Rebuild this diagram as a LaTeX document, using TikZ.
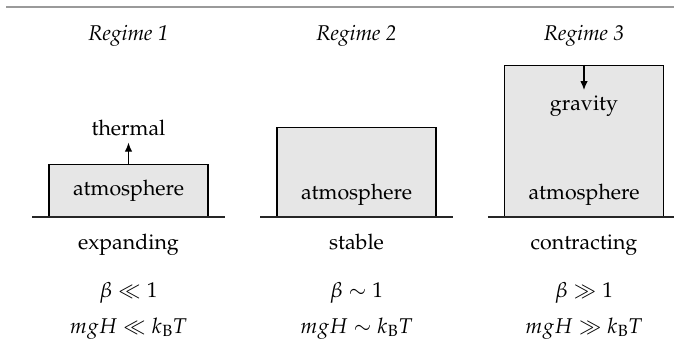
\documentclass[tikz,border=0pt]{standalone}
\usepackage[T1]{fontenc}
\usepackage{mathpazo}
\usetikzlibrary{arrows.meta}
\definecolor{boxgray}{HTML}{E6E6E6}
\definecolor{rulegray}{HTML}{9A9A9A}
\begin{document}
\begin{tikzpicture}[x=1pt,y=-1pt,
  every node/.style={font=\fontsize{21.35}{25}\selectfont, inner sep=0pt},
  lbl/.style={anchor=base},
  box/.style={draw=black, fill=boxgray, line width=1.1pt, minimum width=159pt, anchor=south},
  ground/.style={draw=black!85, line width=1.3pt},
  flow/.style={draw=black, line width=1.1pt, -{Latex[length=9pt,width=7.5pt]}}
]
\useasboundingbox (0,0) rectangle (674,355);
\draw[rulegray, line width=2.2pt] (6,7) -- (674,7);

% titles
\node[lbl] (r1) at (128.5,41) {\itshape Regime 1};
\node[lbl] (r2) at (356.5,41) {\itshape Regime 2};
\node[lbl] (r3) at (584,41) {\itshape Regime 3};

% boxes
\node[box, minimum height=52pt] (b1) at (128.5,217) {};
\node[box, minimum height=89pt] (b2) at (356.5,217) {};
\node[box, minimum height=151pt] (b3) at (584,217) {};

% ground lines
\draw[ground] ([xshift=-16pt]b1.south west) -- ([xshift=16pt]b1.south east);
\draw[ground] ([xshift=-16pt]b2.south west) -- ([xshift=16pt]b2.south east);
\draw[ground] ([xshift=-16pt]b3.south west) -- ([xshift=16pt]b3.south east);

% box texts
\node (a1) at (b1.center) {atmosphere};
\node[lbl] (a2) at (356.5,200) {atmosphere};
\node[lbl] (a3) at (584,200) {atmosphere};
\node[lbl] (thermal) at (128.5,136) {thermal};
\node[lbl] (gravity) at (584,111) {gravity};

\draw[flow, shorten >=6pt] (b1.north) -- (thermal.south);
\draw[flow, shorten >=6pt] (b3.north) -- (gravity.north);

% states
\node[lbl] (s1) at (128.5,250) {expanding};
\node[lbl] (s2) at (356.5,250) {stable};
\node[lbl] (s3) at (584,250) {contracting};

\node[lbl] (c1) at (128.5,297) {$\beta \ll 1$};
\node[lbl] (c2) at (356.5,297) {$\beta \sim 1$};
\node[lbl] (c3) at (584,297) {$\beta \gg 1$};

\node[lbl] (e1) at (128.5,333) {$mgH \ll k_{\mathrm{B}}T$};
\node[lbl] (e2) at (356.5,333) {$mgH \sim k_{\mathrm{B}}T$};
\node[lbl] (e3) at (584,333) {$mgH \gg k_{\mathrm{B}}T$};
\end{tikzpicture}
\end{document}
